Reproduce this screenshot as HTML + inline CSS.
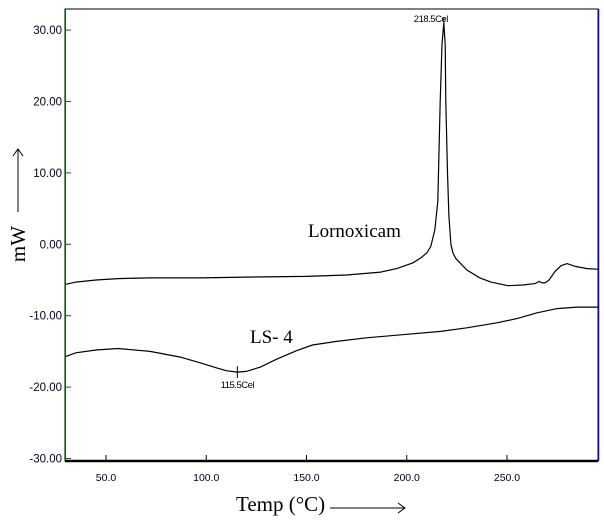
<!DOCTYPE html>
<html><head><meta charset="utf-8"><style>
body{margin:0;background:#fff}
svg{display:block}
text{font-family:"Liberation Sans",sans-serif}
.serif{font-family:"Liberation Serif",serif}
</style></head><body>
<svg id="chart" width="604" height="523" viewBox="0 0 604 523">
<rect x="65" y="9" width="533" height="452" fill="none" stroke="#000" stroke-width="1"/>
<line x1="65.5" y1="9" x2="65.5" y2="461" stroke="#007000"/>
<line x1="598.5" y1="9" x2="598.5" y2="461" stroke="#0000e0" stroke-width="1.5"/>
<line x1="65" y1="461" x2="598" y2="461" stroke="#000" stroke-width="2.5"/>
<g id="yticks"></g><g id="xticks"></g><g id="series"></g>
<text class="serif" transform="translate(25,244) rotate(-90)" text-anchor="middle" font-size="21">mW</text>
<line x1="18" y1="212" x2="18" y2="149" stroke="#000"/>
<polyline points="13,156 18,149 23,156" fill="none" stroke="#000"/>
<text class="serif" x="236" y="511" font-size="21">Temp (°C)</text>
<line x1="330" y1="508" x2="405" y2="508" stroke="#000"/>
<polyline points="398,503 405,508 398,513" fill="none" stroke="#000"/>
<text class="serif" x="308" y="237" font-size="19">Lornoxicam</text>
<text class="serif" x="250" y="343" font-size="19">LS- 4</text>
</svg>
<script>
const yTicks=[30,20,10,0,-10,-20,-30];
const xTicks=[50,100,150,200,250];
const lornoxTemp=[30,35,45,56,72,87,97,120,150,170,187,195,203,207,210,212,214,215.5,216.7,217.6,218.5,219.2,219.5,220.3,221,222,223,224.5,226.6,230,236.5,242,250.5,258,264,266,267.5,269,271,274,277,280,284,290,296];
const lornoxVal=[-5.6,-5.3,-5.0,-4.8,-4.7,-4.7,-4.7,-4.6,-4.5,-4.3,-3.9,-3.4,-2.6,-1.9,-1.2,-0.3,2,6,20,28,31,28,20,10,4,0,-1.2,-2,-2.6,-3.6,-4.7,-5.3,-5.8,-5.7,-5.5,-5.2,-5.4,-5.4,-5.0,-3.8,-3.0,-2.7,-3.1,-3.4,-3.5];
const ls4Temp=[30,35,45,56,72,87,97,105,110,115.5,120,127,135,145,153,165,180,200,217,230,245,255,265,275,285,296];
const ls4Val=[-15.7,-15.2,-14.8,-14.6,-15.0,-15.8,-16.6,-17.3,-17.7,-17.9,-17.8,-17.2,-16.1,-14.9,-14.1,-13.6,-13.1,-12.6,-12.2,-11.7,-11.0,-10.4,-9.6,-9.0,-8.8,-8.8];
const peakT=[218.5,115.5];
const peakV=[31.0,-17.9];
const peakLabels=["218.5Cel","115.5Cel"];
const X=t=>106+(t-50)*2.005;
const Y=v=>244.3-v*7.14;
const NS="http://www.w3.org/2000/svg";
const mk=(tag,attrs,parent)=>{const e=document.createElementNS(NS,tag);for(const k in attrs)e.setAttribute(k,attrs[k]);parent.appendChild(e);return e;};
const yg=document.getElementById('yticks'),xg=document.getElementById('xticks'),sg=document.getElementById('series');
yTicks.forEach(v=>{
 const l=mk('line',{x1:65,x2:71,y1:Y(v),y2:Y(v),stroke:'#007000'},yg);
 
 
 const t=mk('text',{x:62,y:Y(v)+4,'text-anchor':'end','font-size':11.5,fill:'#000020'},yg);
 t.textContent=v.toFixed(2);
 
 
});
xTicks.forEach(v=>{
 const l=mk('line',{x1:X(v),x2:X(v),y1:455,y2:461,stroke:'#000'},xg);
 
 
 const t=mk('text',{x:X(v),y:481,'text-anchor':'middle','font-size':10.5,fill:'#000020'},xg);
 t.textContent=v.toFixed(1);
 
 
});
function line(ts,vs,name){
 const p=mk('polyline',{points:ts.map((t,i)=>X(t).toFixed(1)+','+Y(vs[i]).toFixed(1)).join(' '),fill:'none',stroke:'#000','stroke-width':1.2},sg);
 
 
}
line(lornoxTemp,lornoxVal,'lornoxicam-curve');
line(ls4Temp,ls4Val,'ls4-curve');
peakT.forEach((t,i)=>{
 const x=X(t),y=Y(peakV[i]);
 const m=mk('line',{x1:x,x2:x,y1:y-6,y2:y+6,stroke:'#000'},sg);
 
 
 const lb=mk('text',{x:i===0?x+4:x,y:i===0?y-1:y+16,'text-anchor':i===0?'end':'middle','font-size':9.5,'letter-spacing':'-0.5'},sg);
 lb.textContent=peakLabels[i];
 
 
});
</script>
</body></html>
